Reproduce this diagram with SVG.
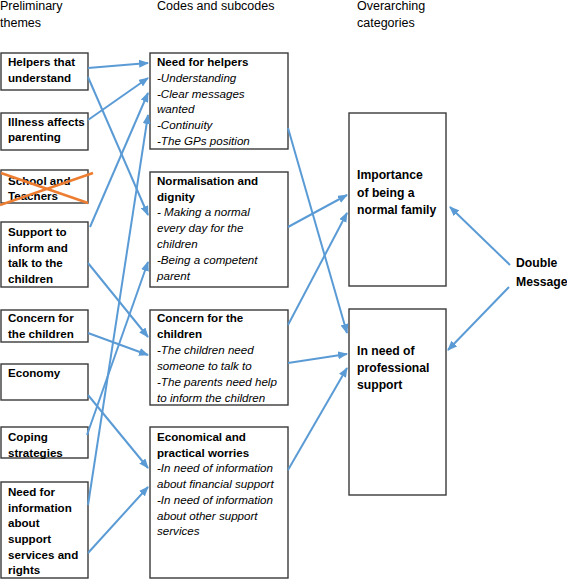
<svg xmlns="http://www.w3.org/2000/svg" width="567" height="579" viewBox="0 0 567 579">
<defs>
<marker id="ah" markerUnits="userSpaceOnUse" markerWidth="10" markerHeight="8" refX="9" refY="4" orient="auto">
<path d="M0,0 L10,4 L0,8 z" fill="#5B9BD5"/>
</marker>
<style>
.box{fill:#fff;stroke:#3a3a3a;stroke-width:1.4}
text{font-family:"Liberation Sans",Arial,sans-serif;fill:#000}
.h{font-size:12.5px}
.b{font-size:11.6px;font-weight:bold}
.br{font-size:12.2px;font-weight:bold}
.i{font-size:11.6px;font-style:italic}
.c line{stroke:#5B9BD5;stroke-width:2;marker-end:url(#ah)}
.x{stroke:#ED7D31;stroke-width:2.5}
</style>
</defs>
<rect width="567" height="579" fill="#fff"/>
<g id="headers">
<text class="h" x="0" y="10">Preliminary</text>
<text class="h" x="0" y="27">themes</text>
<text class="h" x="157" y="10">Codes and subcodes</text>
<text class="h" x="357" y="10">Overarching</text>
<text class="h" x="357" y="27">categories</text>
</g>
<g id="t1"><rect class="box" x="1" y="53" width="87" height="37"/><text class="b" x="8" y="66">Helpers that</text><text class="b" x="8" y="82">understand</text></g>
<g id="t2"><rect class="box" x="1" y="113" width="87" height="37"/><text class="b" x="8" y="126">Illness affects</text><text class="b" x="8" y="141">parenting</text></g>
<g id="t3"><rect class="box" x="1" y="170" width="87" height="33"/><text class="b" x="8" y="185">School and</text><text class="b" x="8" y="200">Teachers</text>
<line class="x" x1="0" y1="205" x2="93" y2="173"/><line class="x" x1="1" y1="173" x2="88" y2="203"/></g>
<g id="t4"><rect class="box" x="1" y="222" width="87" height="65"/><text class="b" x="8" y="236">Support to</text><text class="b" x="8" y="252">inform and</text><text class="b" x="8" y="267">talk to the</text><text class="b" x="8" y="283">children</text></g>
<g id="t5"><rect class="box" x="1" y="310" width="87" height="32"/><text class="b" x="8" y="322">Concern for</text><text class="b" x="8" y="338">the children</text></g>
<g id="t6"><rect class="box" x="1" y="364" width="87" height="36"/><text class="b" x="8" y="377">Economy</text></g>
<g id="t7"><rect class="box" x="1" y="427" width="87" height="31"/><text class="b" x="8" y="441">Coping</text><text class="b" x="8" y="457">strategies</text></g>
<g id="t8"><rect class="box" x="1" y="482" width="87" height="96"/><text class="b" x="8" y="496">Need for</text><text class="b" x="8" y="512">information</text><text class="b" x="8" y="527">about</text><text class="b" x="8" y="543">support</text><text class="b" x="8" y="559">services and</text><text class="b" x="8" y="574">rights</text></g>
<g id="c1"><rect class="box" x="150" y="53" width="138" height="96"/><text class="b" x="157" y="66">Need for helpers</text><text class="i" x="157" y="82">-Understanding</text><text class="i" x="157" y="98">-Clear messages</text><text class="i" x="157" y="113">wanted</text><text class="i" x="157" y="129">-Continuity</text><text class="i" x="157" y="145">-The GPs position</text></g>
<g id="c2"><rect class="box" x="150" y="172" width="138" height="115"/><text class="b" x="157" y="185">Normalisation and</text><text class="b" x="157" y="201">dignity</text><text class="i" x="157" y="216">- Making a normal</text><text class="i" x="157" y="232">every day for the</text><text class="i" x="157" y="248">children</text><text class="i" x="157" y="264">-Being a competent</text><text class="i" x="157" y="280">parent</text></g>
<g id="c3"><rect class="box" x="150" y="310" width="138" height="95"/><text class="b" x="157" y="322">Concern for the</text><text class="b" x="157" y="338">children</text><text class="i" x="157" y="354">-The children need</text><text class="i" x="157" y="370">someone to talk to</text><text class="i" x="157" y="386">-The parents need help</text><text class="i" x="157" y="402">to inform the children</text></g>
<g id="c4"><rect class="box" x="150" y="427" width="138" height="151"/><text class="b" x="157" y="441">Economical and</text><text class="b" x="157" y="457">practical worries</text><text class="i" x="157" y="472">-In need of information</text><text class="i" x="157" y="488">about financial support</text><text class="i" x="157" y="504">-In need of information</text><text class="i" x="157" y="520">about other support</text><text class="i" x="157" y="535">services</text></g>
<g id="o1"><rect class="box" x="349" y="113" width="97" height="173"/><text class="br" x="357" y="179">Importance</text><text class="br" x="357" y="197">of being a</text><text class="br" x="357" y="214">normal family</text></g>
<g id="o2"><rect class="box" x="349" y="309" width="97" height="186"/><text class="br" x="357" y="355">In need of</text><text class="br" x="357" y="372">professional</text><text class="br" x="357" y="389">support</text></g>
<g id="dm"><text class="br" x="516" y="267">Double</text><text class="br" x="516" y="286">Message</text></g>
<g id="connectors" class="c">
<line x1="88" y1="68" x2="148" y2="63"/>
<line x1="88" y1="77" x2="148" y2="215"/>
<line x1="88" y1="120" x2="148" y2="78"/>
<line x1="90" y1="227" x2="148" y2="93"/>
<line x1="88" y1="263" x2="148" y2="337"/>
<line x1="88" y1="333" x2="148" y2="355"/>
<line x1="88" y1="395" x2="148" y2="468"/>
<line x1="87" y1="435" x2="148" y2="262"/>
<line x1="88" y1="505" x2="148" y2="115"/>
<line x1="88" y1="553" x2="148" y2="487"/>
<line x1="288" y1="128" x2="347" y2="333"/>
<line x1="288" y1="227" x2="347" y2="195"/>
<line x1="288" y1="325" x2="347" y2="213"/>
<line x1="288" y1="363" x2="347" y2="354"/>
<line x1="288" y1="470" x2="347" y2="368"/>
<line x1="510" y1="265" x2="450" y2="207"/>
<line x1="509" y1="287" x2="448" y2="350"/>
</g>
</svg>
